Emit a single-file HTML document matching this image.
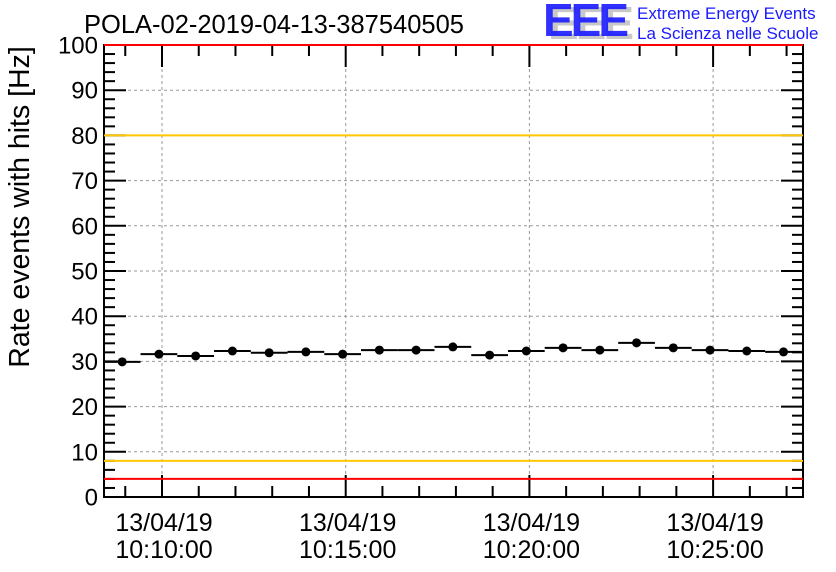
<!DOCTYPE html>
<html><head><meta charset="utf-8"><style>
body{margin:0;background:#fff;}
svg{display:block;font-family:"Liberation Sans",sans-serif;}
</style></head><body>
<svg id="chart" width="836" height="572" viewBox="0 0 836 572" xmlns="http://www.w3.org/2000/svg">
<rect width="836" height="572" fill="#fff"/>
<text x="84" y="33" font-size="25.5" fill="#000">POLA-02-2019-04-13-387540505</text>
<g>
<text x="548" y="39" font-size="46" font-weight="bold" fill="#c8c8c8" letter-spacing="-3">EEE</text>
<text x="543" y="36" font-size="46" font-weight="bold" fill="#1a1aff" letter-spacing="-3" opacity="0.9">EEE</text>
<text x="637" y="19" font-size="17" fill="#1a1aff">Extreme Energy Events</text>
<text x="637" y="39" font-size="17" fill="#1a1aff">La Scienza nelle Scuole</text>
</g>
<text transform="translate(29,207) rotate(-90)" text-anchor="middle" font-size="28.5" fill="#000">Rate events with hits [Hz]</text>
<g id="grid"></g><g id="axes"></g><g id="marks"></g>
</svg>
<script>
const binCenters=[-65,-5,55,115,175,235,295,355,415,475,535,595,655,715,775,835,895,955,1015];
const rates=[29.9,31.6,31.2,32.3,31.9,32.1,31.6,32.5,32.5,33.2,31.4,32.3,33.0,32.5,34.1,33.0,32.5,32.3,32.1];
const yTicks=[0,10,20,30,40,50,60,70,80,90,100];
const xTickSecs=[0,300,600,900];
const xTickLabels=["10:10:00","10:15:00","10:20:00","10:25:00"];
const dateLabel="13/04/19";
const redLimits=[4,100];
const yellowLimits=[8,80];
const binWidth=60;

const L=104,R=803,T=45,B=497;
const sx=s=>162+s*(183.7/300);
const sy=v=>B-(v/100)*(B-T);
const NS="http://www.w3.org/2000/svg";
function mk(tag,attrs,parent){const e=document.createElementNS(NS,tag);for(const k in attrs)e.setAttribute(k,attrs[k]);parent.appendChild(e);return e;}
const grid=document.getElementById('grid'),axes=document.getElementById('axes'),marks=document.getElementById('marks');

yTicks.forEach(v=>{if(v>0&&v<100){const g=mk('line',{x1:L,x2:R,y1:sy(v),y2:sy(v),stroke:'#999','stroke-dasharray':'3,3','stroke-width':1},grid);

}});
xTickSecs.forEach(s=>{const g=mk('line',{x1:sx(s),x2:sx(s),y1:T,y2:B,stroke:'#999','stroke-dasharray':'3,3','stroke-width':1},grid);

});

redLimits.forEach(v=>{const l=mk('line',{x1:L,x2:R,y1:sy(v),y2:sy(v),stroke:'#f00','stroke-width':2},marks);

});
yellowLimits.forEach(v=>{const l=mk('line',{x1:L,x2:R,y1:sy(v),y2:sy(v),stroke:'#ffc800','stroke-width':2},marks);

});

const fr=mk('rect',{x:L,y:T,width:R-L,height:B-T,fill:'none',stroke:'#000','stroke-width':2},axes);



for(let v=0;v<=100;v+=2){const maj=v%10===0;const len=maj?22:11;
mk('line',{x1:L,x2:L+len,y1:sy(v),y2:sy(v),stroke:'#000','stroke-width':2},axes);
mk('line',{x1:R,x2:R-len,y1:sy(v),y2:sy(v),stroke:'#000','stroke-width':2},axes);}
yTicks.forEach(v=>{const t=mk('text',{x:L-6,y:sy(v)+8.5,'text-anchor':'end','font-size':24,fill:'#000'},axes);t.textContent=v;

});

for(let s=-60;s<=1020;s+=60){const x=sx(s);if(x<L||x>R)continue;const maj=s%300===0;const len=maj?22:11;
mk('line',{x1:x,x2:x,y1:B,y2:B-len,stroke:'#000','stroke-width':2},axes);
mk('line',{x1:x,x2:x,y1:T,y2:T+len,stroke:'#000','stroke-width':2},axes);}
xTickSecs.forEach((s,i)=>{
const t1=mk('text',{x:sx(s)+2,y:531,'text-anchor':'middle','font-size':25,fill:'#000'},axes);t1.textContent=dateLabel;


const t2=mk('text',{x:sx(s)+2,y:558,'text-anchor':'middle','font-size':25,fill:'#000'},axes);t2.textContent=xTickLabels[i];

});

binCenters.forEach((c,i)=>{const y=sy(rates[i]);
const l=mk('line',{x1:sx(c-binWidth/2),x2:sx(c+binWidth/2),y1:y,y2:y,stroke:'#000','stroke-width':2},marks);


const p=mk('circle',{cx:sx(c),cy:y,r:4.5,fill:'#000'},marks);

});
</script>
</body></html>
